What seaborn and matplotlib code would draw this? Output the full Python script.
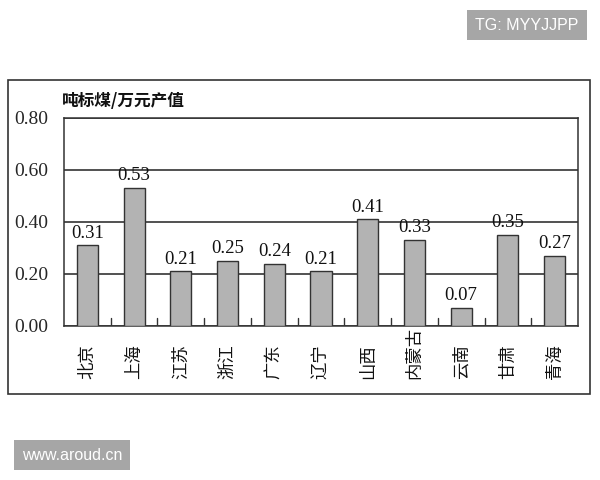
import pandas as pd
import seaborn as sns
import matplotlib.pyplot as plt
from matplotlib.patches import Rectangle

# Energy intensity by region (tce per 10k yuan of output)
regions = ['北京', '上海', '江苏', '浙江', '广东', '辽宁', '山西', '内蒙古', '云南', '甘肃', '青海']
values = [0.31, 0.53, 0.21, 0.25, 0.24, 0.21, 0.41, 0.33, 0.07, 0.35, 0.27]
y_ticks = [0.0, 0.2, 0.4, 0.6, 0.8]
unit_label = '吨标煤/万元产值'

df = pd.DataFrame({'region': regions, 'value': values})

sns.set_theme(style='white')
plt.rcParams['font.family'] = ['Noto Sans CJK SC', 'DejaVu Sans']
num_font = 'Liberation Serif'

fig = plt.figure(figsize=(6, 4.8), dpi=100)

# outer frame around the chart
fig.patches.append(Rectangle((8 / 600, 1 - 394 / 480), 582 / 600, 314 / 480,
                             transform=fig.transFigure, fill=False,
                             edgecolor='#333333', linewidth=1.2))

ax = fig.add_axes([64 / 600, 1 - 326 / 480, 514 / 600, 208 / 480])
sns.barplot(data=df, x='region', y='value', ax=ax, color='#b3b3b3',
            edgecolor='#333333', linewidth=1.0, width=0.45, zorder=3)

ax.set_ylim(0, 0.8)
ax.set_xlim(-0.5, len(regions) - 0.5)
ax.set_yticks(y_ticks)
ax.set_yticklabels([f'{v:.2f}' for v in y_ticks], family=num_font, fontsize=14)
ax.tick_params(axis='y', length=0, pad=11)
ax.grid(axis='y', color='#222222', linewidth=1.1, zorder=0)

# category labels, rotated, anchored at their bottom end
ax.set_xticks(range(len(regions)))
ax.set_xticklabels([])
ax.tick_params(axis='x', length=0)
for i, r in enumerate(regions):
    ax.text(i, -0.255, r, rotation=90, ha='center', va='bottom', fontsize=12.5,
            color='#111111', transform=ax.get_xaxis_transform())
for b in range(1, len(regions)):
    ax.axvline(b - 0.5, ymin=0, ymax=0.04, color='#333333', linewidth=1.0, zorder=2)

for s in ax.spines.values():
    s.set_color('#333333')
    s.set_linewidth(1.1)

ax.set_xlabel('')
ax.set_ylabel('')

for i, v in enumerate(values):
    ax.text(i, v + 0.015, f'{v:.2f}', ha='center', va='bottom',
            family=num_font, fontsize=13.5, color='#111111')

fig.text(62 / 600, 1 - 101 / 480, unit_label, fontsize=12, fontweight='bold',
         va='center', ha='left', color='#111111')

# watermark tags
fig.text(527 / 600, 1 - 25 / 480, 'TG: MYYJJPP', ha='center', va='center',
         color='white', fontsize=11.5, family='Liberation Sans',
         bbox=dict(boxstyle='square,pad=0.5', facecolor='#a6a6a6', edgecolor='none'))
fig.text(72 / 600, 1 - 455 / 480, 'www.aroud.cn', ha='center', va='center',
         color='white', fontsize=11.5, family='Liberation Sans',
         bbox=dict(boxstyle='square,pad=0.5', facecolor='#a6a6a6', edgecolor='none'))

fig.savefig('out.png', dpi=100)
